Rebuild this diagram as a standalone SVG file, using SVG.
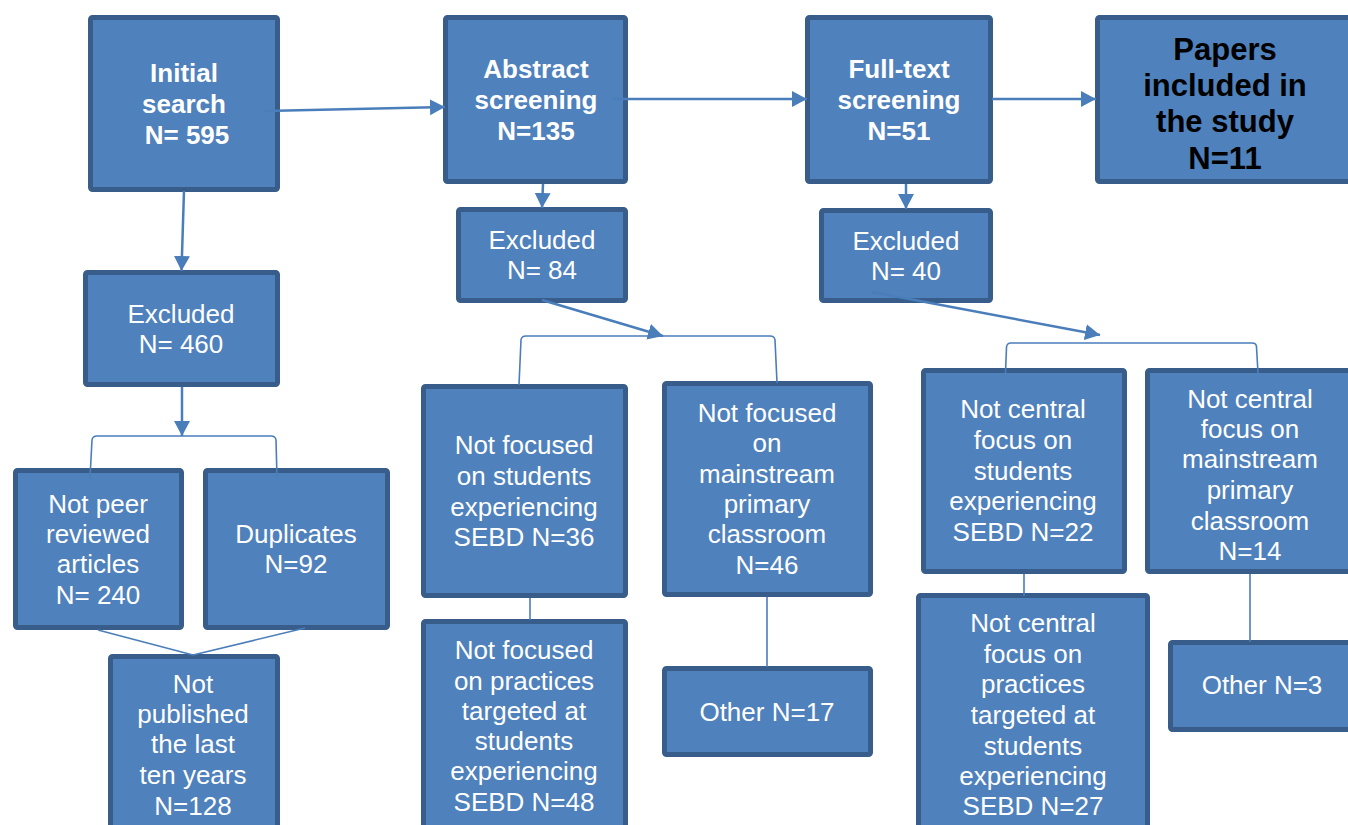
<svg xmlns="http://www.w3.org/2000/svg" width="1348" height="825" viewBox="0 0 1348 825">
<style>
.box{fill:#4F81BD;stroke:#385D8A;stroke-width:5}
.t{font-family:"Liberation Sans",Arial,sans-serif;font-size:26px;fill:#FFFFFF;text-anchor:middle}
.b{font-weight:bold}
.k{fill:#000000;font-size:31px}
.arr{fill:none;stroke:#4A7EBB;stroke-width:2.5;marker-end:url(#ah)}
.ln{fill:none;stroke:#4A7EBB;stroke-width:1.6}
</style>
<defs>
<marker id="ah" markerUnits="userSpaceOnUse" markerWidth="16" markerHeight="17" refX="15" refY="8" orient="auto">
<path d="M0,0 L15,8 L0,16 Z" fill="#4A7EBB"/>
</marker>
</defs>
<rect width="1348" height="825" fill="#FFFFFF"/>
<g id="initial"><rect class="box" x="90.5" y="17.5" width="187" height="172" rx="2"/>
<text class="t b"><tspan x="184" y="82">Initial</tspan><tspan x="184" y="113">search</tspan><tspan x="187" y="144">N= 595</tspan></text></g>
<g id="abstract"><rect class="box" x="445.5" y="17.5" width="180" height="164" rx="2"/>
<text class="t b"><tspan x="536" y="78">Abstract</tspan><tspan x="536" y="109">screening</tspan><tspan x="536" y="140">N=135</tspan></text></g>
<g id="fulltext"><rect class="box" x="807.5" y="17.5" width="183" height="164" rx="2"/>
<text class="t b"><tspan x="899" y="78">Full-text</tspan><tspan x="899" y="109">screening</tspan><tspan x="899" y="140">N=51</tspan></text></g>
<g id="papers"><rect class="box" x="1097.5" y="17.5" width="255" height="164" rx="2"/>
<text class="t b k"><tspan x="1225" y="60">Papers</tspan><tspan x="1225" y="96">included in</tspan><tspan x="1225" y="132">the study</tspan><tspan x="1225" y="169">N=11</tspan></text></g>
<g id="excl460"><rect class="box" x="85.5" y="272.5" width="192" height="112" rx="2"/>
<text class="t"><tspan x="181" y="323">Excluded</tspan><tspan x="181" y="353">N= 460</tspan></text></g>
<g id="excl84"><rect class="box" x="458.5" y="209.5" width="167" height="91" rx="2"/>
<text class="t"><tspan x="542" y="249">Excluded</tspan><tspan x="542" y="279">N= 84</tspan></text></g>
<g id="excl40"><rect class="box" x="821.5" y="210.5" width="169" height="90" rx="2"/>
<text class="t"><tspan x="906" y="250">Excluded</tspan><tspan x="906" y="280">N= 40</tspan></text></g>
<g id="notpeer"><rect class="box" x="15.5" y="470.5" width="166" height="157" rx="2"/>
<text class="t"><tspan x="98" y="513">Not peer</tspan><tspan x="98" y="543">reviewed</tspan><tspan x="98" y="573">articles</tspan><tspan x="98" y="604">N= 240</tspan></text></g>
<g id="duplicates"><rect class="box" x="205.5" y="470.5" width="182" height="157" rx="2"/>
<text class="t"><tspan x="296" y="543">Duplicates</tspan><tspan x="296" y="573">N=92</tspan></text></g>
<g id="notpublished"><rect class="box" x="110.5" y="656.5" width="167" height="200" rx="2"/>
<text class="t"><tspan x="193" y="693">Not</tspan><tspan x="193" y="723">published</tspan><tspan x="193" y="753">the last</tspan><tspan x="193" y="784">ten years</tspan><tspan x="193" y="815">N=128</tspan></text></g>
<g id="sebd36"><rect class="box" x="423.5" y="386.5" width="202" height="209" rx="2"/>
<text class="t"><tspan x="524" y="454">Not focused</tspan><tspan x="524" y="485">on students</tspan><tspan x="524" y="516">experiencing</tspan><tspan x="524" y="546">SEBD N=36</tspan></text></g>
<g id="main46"><rect class="box" x="664.5" y="383.5" width="206" height="211" rx="2"/>
<text class="t"><tspan x="767" y="422">Not focused</tspan><tspan x="767" y="452">on</tspan><tspan x="767" y="483">mainstream</tspan><tspan x="767" y="513">primary</tspan><tspan x="767" y="543">classroom</tspan><tspan x="767" y="574">N=46</tspan></text></g>
<g id="pract48"><rect class="box" x="423.5" y="621.5" width="202" height="220" rx="2"/>
<text class="t"><tspan x="524" y="659">Not focused</tspan><tspan x="524" y="690">on practices</tspan><tspan x="524" y="720">targeted at</tspan><tspan x="524" y="750">students</tspan><tspan x="524" y="780">experiencing</tspan><tspan x="524" y="811">SEBD N=48</tspan></text></g>
<g id="other17"><rect class="box" x="664.5" y="668.5" width="206" height="86" rx="2"/>
<text class="t"><tspan x="767" y="721">Other N=17</tspan></text></g>
<g id="sebd22"><rect class="box" x="923.5" y="370.5" width="201" height="201" rx="2"/>
<text class="t"><tspan x="1023" y="418">Not central</tspan><tspan x="1023" y="449">focus on</tspan><tspan x="1023" y="480">students</tspan><tspan x="1023" y="510">experiencing</tspan><tspan x="1023" y="541">SEBD N=22</tspan></text></g>
<g id="main14"><rect class="box" x="1147.5" y="370.5" width="205" height="201" rx="2"/>
<text class="t"><tspan x="1250" y="408">Not central</tspan><tspan x="1250" y="438">focus on</tspan><tspan x="1250" y="468">mainstream</tspan><tspan x="1250" y="499">primary</tspan><tspan x="1250" y="530">classroom</tspan><tspan x="1250" y="560">N=14</tspan></text></g>
<g id="pract27"><rect class="box" x="918.5" y="595.5" width="229" height="250" rx="2"/>
<text class="t"><tspan x="1033" y="632">Not central</tspan><tspan x="1033" y="663">focus on</tspan><tspan x="1033" y="693">practices</tspan><tspan x="1033" y="724">targeted at</tspan><tspan x="1033" y="755">students</tspan><tspan x="1033" y="785">experiencing</tspan><tspan x="1033" y="815">SEBD N=27</tspan></text></g>
<g id="other3"><rect class="box" x="1170.5" y="642.5" width="186" height="87" rx="2"/>
<text class="t"><tspan x="1262" y="694">Other N=3</tspan></text></g>
<g id="connectors">
<line class="arr" x1="265" y1="111" x2="445" y2="107"/>
<line class="arr" x1="612" y1="99" x2="807" y2="99"/>
<line class="arr" x1="992" y1="99" x2="1096" y2="99"/>
<line class="arr" x1="184" y1="191" x2="181.5" y2="271"/>
<line class="arr" x1="182" y1="387" x2="182" y2="436"/>
<line class="arr" x1="543" y1="184" x2="542" y2="208"/>
<line class="arr" x1="906" y1="184" x2="906" y2="209"/>
<line class="arr" x1="542" y1="300" x2="663" y2="336"/>
<line class="arr" x1="872" y1="292" x2="1100" y2="335"/>
<path class="ln" d="M90,478 L92,440 Q92.5,436 97,436 L271,436 Q275.5,436 276,440 L277,478"/>
<path class="ln" d="M519,385 L521,340 Q521.5,336 526,336 L770,336 Q774.5,336 775,340 L777,383"/>
<path class="ln" d="M1005.5,373 L1006.5,347 Q1007,343 1011,343 L1252,343 Q1256.5,343 1256.5,347 L1258,373"/>
<line class="ln" x1="98" y1="630" x2="193" y2="655"/>
<line class="ln" x1="305" y1="628" x2="193" y2="655"/>
<line class="ln" x1="530" y1="598" x2="530" y2="620"/>
<line class="ln" x1="767" y1="597" x2="767" y2="667"/>
<line class="ln" x1="1024" y1="574" x2="1024" y2="596"/>
<line class="ln" x1="1250" y1="574" x2="1250" y2="642"/>
</g>
</svg>
